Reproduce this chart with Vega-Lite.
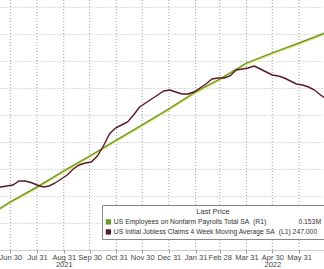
{
  "$schema": "https://vega.github.io/schema/vega-lite/v6.json",
  "width": 324,
  "height": 250,
  "autosize": {"type": "none"},
  "padding": {"left": 0, "top": 0, "right": 0, "bottom": 19},
  "background": "white",
  "config": {
    "view": {"stroke": null},
    "font": "Liberation Sans",
    "axisX": {"labelOverlap": false, "labelFlush": false, "labelFontSize": 7.5, "labelColor": "#444", "labelLineHeight": 7.5, "labelPadding": 0, "tickSize": 3, "tickColor": "#999", "domainColor": "#999", "domainDash": [1, 1], "grid": false, "title": null}
  },
  "datasets": {
    "months": [
      {"date": "2021-06-30T00:00:00"},
      {"date": "2021-07-31T00:00:00"},
      {"date": "2021-08-31T00:00:00"},
      {"date": "2021-09-30T00:00:00"},
      {"date": "2021-10-31T00:00:00"},
      {"date": "2021-11-30T00:00:00"},
      {"date": "2021-12-31T00:00:00"},
      {"date": "2022-01-31T00:00:00"},
      {"date": "2022-02-28T00:00:00"},
      {"date": "2022-03-31T00:00:00"},
      {"date": "2022-04-30T00:00:00"},
      {"date": "2022-05-31T00:00:00"}
    ],
    "payrolls": [
      {"date": "2021-05-31T00:00:00", "value": 145.66, "series": "P"},
      {"date": "2021-06-30T00:00:00", "value": 146.21, "series": "P"},
      {"date": "2021-07-31T00:00:00", "value": 146.72, "series": "P"},
      {"date": "2021-08-31T00:00:00", "value": 147.27, "series": "P"},
      {"date": "2021-09-30T00:00:00", "value": 147.78, "series": "P"},
      {"date": "2021-10-31T00:00:00", "value": 148.33, "series": "P"},
      {"date": "2021-11-30T00:00:00", "value": 148.85, "series": "P"},
      {"date": "2021-12-31T00:00:00", "value": 149.40, "series": "P"},
      {"date": "2022-01-31T00:00:00", "value": 149.98, "series": "P"},
      {"date": "2022-02-28T00:00:00", "value": 150.42, "series": "P"},
      {"date": "2022-03-31T00:00:00", "value": 150.97, "series": "P"},
      {"date": "2022-04-30T00:00:00", "value": 151.32, "series": "P"},
      {"date": "2022-05-31T00:00:00", "value": 151.66, "series": "P"},
      {"date": "2022-06-30T00:00:00", "value": 152.00, "series": "P"}
    ],
    "claims": [
      {"date": "2021-06-12T00:00:00", "value": 428, "series": "C"},
      {"date": "2021-06-19T00:00:00", "value": 427, "series": "C"},
      {"date": "2021-06-26T00:00:00", "value": 425, "series": "C"},
      {"date": "2021-07-03T00:00:00", "value": 423, "series": "C"},
      {"date": "2021-07-10T00:00:00", "value": 415, "series": "C"},
      {"date": "2021-07-17T00:00:00", "value": 415, "series": "C"},
      {"date": "2021-07-24T00:00:00", "value": 418, "series": "C"},
      {"date": "2021-07-31T00:00:00", "value": 423, "series": "C"},
      {"date": "2021-08-07T00:00:00", "value": 427, "series": "C"},
      {"date": "2021-08-14T00:00:00", "value": 425, "series": "C"},
      {"date": "2021-08-21T00:00:00", "value": 419, "series": "C"},
      {"date": "2021-08-28T00:00:00", "value": 411, "series": "C"},
      {"date": "2021-09-04T00:00:00", "value": 403, "series": "C"},
      {"date": "2021-09-11T00:00:00", "value": 391, "series": "C"},
      {"date": "2021-09-18T00:00:00", "value": 383, "series": "C"},
      {"date": "2021-09-25T00:00:00", "value": 379, "series": "C"},
      {"date": "2021-10-02T00:00:00", "value": 377, "series": "C"},
      {"date": "2021-10-09T00:00:00", "value": 365, "series": "C"},
      {"date": "2021-10-16T00:00:00", "value": 345, "series": "C"},
      {"date": "2021-10-23T00:00:00", "value": 321, "series": "C"},
      {"date": "2021-10-30T00:00:00", "value": 309, "series": "C"},
      {"date": "2021-11-06T00:00:00", "value": 303, "series": "C"},
      {"date": "2021-11-13T00:00:00", "value": 297, "series": "C"},
      {"date": "2021-11-20T00:00:00", "value": 283, "series": "C"},
      {"date": "2021-11-27T00:00:00", "value": 267, "series": "C"},
      {"date": "2021-12-04T00:00:00", "value": 259, "series": "C"},
      {"date": "2021-12-11T00:00:00", "value": 251, "series": "C"},
      {"date": "2021-12-18T00:00:00", "value": 243, "series": "C"},
      {"date": "2021-12-25T00:00:00", "value": 235, "series": "C"},
      {"date": "2022-01-01T00:00:00", "value": 233, "series": "C"},
      {"date": "2022-01-08T00:00:00", "value": 237, "series": "C"},
      {"date": "2022-01-15T00:00:00", "value": 241, "series": "C"},
      {"date": "2022-01-22T00:00:00", "value": 241, "series": "C"},
      {"date": "2022-01-29T00:00:00", "value": 237, "series": "C"},
      {"date": "2022-02-05T00:00:00", "value": 229, "series": "C"},
      {"date": "2022-02-12T00:00:00", "value": 221, "series": "C"},
      {"date": "2022-02-19T00:00:00", "value": 211, "series": "C"},
      {"date": "2022-02-26T00:00:00", "value": 209, "series": "C"},
      {"date": "2022-03-05T00:00:00", "value": 209, "series": "C"},
      {"date": "2022-03-12T00:00:00", "value": 205, "series": "C"},
      {"date": "2022-03-19T00:00:00", "value": 193, "series": "C"},
      {"date": "2022-03-26T00:00:00", "value": 191, "series": "C"},
      {"date": "2022-04-02T00:00:00", "value": 189, "series": "C"},
      {"date": "2022-04-09T00:00:00", "value": 185, "series": "C"},
      {"date": "2022-04-16T00:00:00", "value": 191, "series": "C"},
      {"date": "2022-04-23T00:00:00", "value": 197, "series": "C"},
      {"date": "2022-04-30T00:00:00", "value": 203, "series": "C"},
      {"date": "2022-05-07T00:00:00", "value": 205, "series": "C"},
      {"date": "2022-05-14T00:00:00", "value": 209, "series": "C"},
      {"date": "2022-05-21T00:00:00", "value": 215, "series": "C"},
      {"date": "2022-05-28T00:00:00", "value": 221, "series": "C"},
      {"date": "2022-06-04T00:00:00", "value": 223, "series": "C"},
      {"date": "2022-06-11T00:00:00", "value": 227, "series": "C"},
      {"date": "2022-06-18T00:00:00", "value": 233, "series": "C"},
      {"date": "2022-06-25T00:00:00", "value": 243, "series": "C"},
      {"date": "2022-07-02T00:00:00", "value": 251, "series": "C"}
    ]
  },
  "encoding": {
    "x": {
      "field": "date",
      "type": "temporal",
      "scale": {"domain": [{"year": 2021, "month": 6, "date": 18}, {"year": 2022, "month": 6, "date": 29}]},
      "axis": {
        "labelOverlap": false,
        "labelFlush": false,
        "values": [
          {"year": 2021, "month": 6, "date": 30},
          {"year": 2021, "month": 7, "date": 31},
          {"year": 2021, "month": 8, "date": 31},
          {"year": 2021, "month": 9, "date": 30},
          {"year": 2021, "month": 10, "date": 31},
          {"year": 2021, "month": 11, "date": 30},
          {"year": 2021, "month": 12, "date": 31},
          {"year": 2022, "month": 1, "date": 31},
          {"year": 2022, "month": 2, "date": 28},
          {"year": 2022, "month": 3, "date": 31},
          {"year": 2022, "month": 4, "date": 30},
          {"year": 2022, "month": 5, "date": 31},
          {"year": 2022, "month": 6, "date": 30}
        ],
        "labelExpr": "(month(datum.value)==7 && year(datum.value)==2021) ? [timeFormat(datum.value,'%b %d'), '2021'] : ((month(datum.value)==3 && year(datum.value)==2022) ? [timeFormat(datum.value,'%b %d'), '2022'] : timeFormat(datum.value,'%b %d'))"
      }
    }
  },
  "layer": [
    {
      "data": {"name": "months"},
      "mark": {"type": "rule", "color": "#a0a0a0", "strokeWidth": 1, "strokeDash": [1, 2]},
      "encoding": {
        "x": {
          "field": "date",
          "type": "temporal",
          "axis": {
            "labelOverlap": false,
            "labelFlush": false,
            "values": [
              {"year": 2021, "month": 6, "date": 30},
              {"year": 2021, "month": 7, "date": 31},
              {"year": 2021, "month": 8, "date": 31},
              {"year": 2021, "month": 9, "date": 30},
              {"year": 2021, "month": 10, "date": 31},
              {"year": 2021, "month": 11, "date": 30},
              {"year": 2021, "month": 12, "date": 31},
              {"year": 2022, "month": 1, "date": 31},
              {"year": 2022, "month": 2, "date": 28},
              {"year": 2022, "month": 3, "date": 31},
              {"year": 2022, "month": 4, "date": 30},
              {"year": 2022, "month": 5, "date": 31},
              {"year": 2022, "month": 6, "date": 30}
            ],
            "labelExpr": "(month(datum.value)==7 && year(datum.value)==2021) ? [timeFormat(datum.value,'%b %d'), '2021'] : ((month(datum.value)==3 && year(datum.value)==2022) ? [timeFormat(datum.value,'%b %d'), '2022'] : timeFormat(datum.value,'%b %d'))"
          }
        }
      }
    },
    {
      "data": {"name": "payrolls"},
      "mark": {"type": "line", "clip": true, "color": "#eaea8a", "strokeWidth": 1.6, "yOffset": 1.3},
      "encoding": {
        "y": {"field": "value", "type": "quantitative", "scale": {"domain": [144.559, 153.134], "nice": false, "zero": false}, "axis": null}
      }
    },
    {
      "data": {"name": "payrolls"},
      "mark": {"type": "line", "clip": true, "strokeWidth": 1.5},
      "encoding": {
        "y": {"field": "value", "type": "quantitative", "scale": {"domain": [144.559, 153.134], "nice": false, "zero": false}, "axis": null},
        "color": {
          "field": "series",
          "type": "nominal",
          "scale": {"domain": ["P", "C"], "range": ["#6a9a2a", "#5a1822"]},
          "legend": {
            "orient": "none",
            "legendX": 102,
            "legendY": 205,
            "title": "Last Price",
            "titleAnchor": "middle",
            "titleFontSize": 7.5,
            "titleFontWeight": "normal",
            "titleColor": "#333",
            "titlePadding": 3,
            "fillColor": "white",
            "strokeColor": "#888",
            "padding": 3,
            "symbolType": "square",
            "symbolSize": 28,
            "symbolStrokeWidth": 0,
            "labelFontSize": 6.8,
            "labelColor": "#333",
            "labelLimit": 400,
            "labelOffset": 2,
            "rowPadding": 2,
            "labelExpr": "datum.value == 'P' ? 'US Employees on Nonfarm Payrolls Total SA\u00a0\u00a0(R1)\u00a0\u00a0\u00a0\u00a0\u00a0\u00a0\u00a0\u00a0\u00a0\u00a0\u00a0\u00a0\u00a0\u00a0\u00a0\u00a0\u00a00.153M' : 'US Initial Jobless Claims 4 Week Moving Average SA\u00a0\u00a0(L1)\u00a0247.000'",
            "encode": {
              "symbols": {"update": {"fill": {"scale": "color", "field": "value"}, "stroke": {"value": "transparent"}}}
            }
          }
        }
      }
    },
    {
      "data": {"name": "claims"},
      "mark": {"type": "line", "clip": true, "strokeWidth": 1.4},
      "encoding": {
        "y": {
          "field": "value",
          "type": "quantitative",
          "scale": {"domain": [53, 553], "reverse": true, "nice": false, "zero": false},
          "axis": {
            "title": null,
            "values": [67, 121, 175, 229, 283, 337, 391, 445, 499],
            "labels": false,
            "ticks": false,
            "domain": false,
            "grid": true,
            "gridColor": "#bbb",
            "gridDash": [1, 2]
          }
        },
        "color": {"field": "series", "type": "nominal"}
      }
    }
  ],
  "resolve": {"scale": {"y": "independent"}}
}
